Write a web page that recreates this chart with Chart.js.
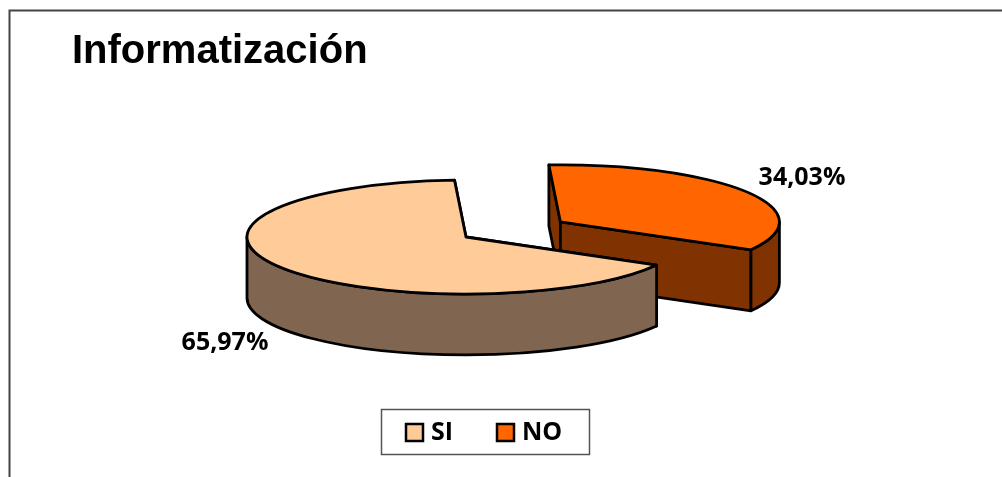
<!DOCTYPE html>
<html><head><meta charset="utf-8">
<style>html,body{margin:0;padding:0;background:#fff}canvas{display:block}</style>
<script src="https://cdn.jsdelivr.net/npm/chart.js@4"></script>
</head><body>
<canvas id="c" width="1002" height="477"></canvas>
<script>
const categories = ['SI', 'NO'];
const values = [65.97, 34.03];
const topColors = ['#FFCC99', '#FF6600'];
const wallColors = ['#806650', '#803300'];
const explodeBy = [0, 111];

const TILT = 0.26, DEPTH = 61, CENTER_Y = 237, RADIUS = 219, EDGE = 2.8;
const LABEL_FONT = 'bold 25px "Open Sans", sans-serif';
const LEGEND_FONT = 'bold 25px "Open Sans", sans-serif';
const fmt = v => v.toFixed(2).replace('.', ',') + '%';

function pie3d() {
  let baseY = 0;
  const mapY = y => CENTER_Y + (y - baseY) * TILT;
  return {
    id: 'pie3d',
    afterDatasetsUpdate(chart) {
      const arcs = chart.getDatasetMeta(0).data;
      baseY = arcs[0].y;
      arcs.forEach((arc, i) => {
        const mid = (arc.startAngle + arc.endAngle) / 2;
        arc.x += Math.cos(mid) * explodeBy[i];
        arc.y += Math.sin(mid) * explodeBy[i];
      });
    },
    beforeDatasetsDraw(chart) {
      const ctx = chart.ctx;
      const arcs = chart.getDatasetMeta(0).data;
      // walls: the exploded slice sits behind, so it goes first
      [1, 0].forEach(i => {
        const a = arcs[i], cy = mapY(a.y), r = a.outerRadius, ry = r * TILT;
        ctx.save();
        ctx.fillStyle = wallColors[i];
        ctx.strokeStyle = '#000'; ctx.lineWidth = EDGE; ctx.lineJoin = 'round';
        [a.startAngle, a.endAngle].forEach(ang => {
          const ex = a.x + Math.cos(ang) * r, ey = cy + Math.sin(ang) * ry;
          ctx.beginPath();
          ctx.moveTo(a.x, cy); ctx.lineTo(ex, ey);
          ctx.lineTo(ex, ey + DEPTH); ctx.lineTo(a.x, cy + DEPTH);
          ctx.closePath(); ctx.fill(); ctx.stroke();
        });
        [[0, Math.PI], [2 * Math.PI, 3 * Math.PI]].forEach(([lo, hi]) => {
          const s = Math.max(a.startAngle, lo), e = Math.min(a.endAngle, hi);
          if (e <= s) return;
          ctx.beginPath();
          ctx.ellipse(a.x, cy, r, ry, 0, s, e);
          ctx.lineTo(a.x + Math.cos(e) * r, cy + Math.sin(e) * ry + DEPTH);
          ctx.ellipse(a.x, cy + DEPTH, r, ry, 0, e, s, true);
          ctx.closePath(); ctx.fill(); ctx.stroke();
        });
        ctx.restore();
      });
      ctx.save();
      ctx.translate(0, CENTER_Y);
      ctx.scale(1, TILT);
      ctx.translate(0, -baseY);
    },
    afterDatasetsDraw(chart) {
      const ctx = chart.ctx;
      ctx.restore();
      const arcs = chart.getDatasetMeta(0).data;
      arcs.forEach(a => {
        const cy = mapY(a.y), r = a.outerRadius, ry = r * TILT;
        ctx.save();
        ctx.strokeStyle = '#000'; ctx.lineWidth = EDGE; ctx.lineJoin = 'round';
        ctx.beginPath();
        ctx.moveTo(a.x, cy);
        ctx.ellipse(a.x, cy, r, ry, 0, a.startAngle, a.endAngle);
        ctx.closePath(); ctx.stroke();
        ctx.restore();
      });
    },
    afterDraw(chart) {
      const ctx = chart.ctx;
      ctx.save();
      // chart frame
      ctx.strokeStyle = '#444'; ctx.lineWidth = 2;
      ctx.beginPath(); ctx.moveTo(9.5, 477); ctx.lineTo(9.5, 10.5); ctx.lineTo(1002, 10.5); ctx.stroke();
      // percentage labels
      ctx.fillStyle = '#000'; ctx.font = LABEL_FONT;
      ctx.textAlign = 'center'; ctx.textBaseline = 'middle';
      ctx.fillText(fmt(values[0]), 225, 343);
      ctx.fillText(fmt(values[1]), 802, 178);
      // legend
      ctx.fillStyle = '#fff'; ctx.strokeStyle = '#555'; ctx.lineWidth = 1.5;
      ctx.fillRect(381.5, 409.5, 208, 45); ctx.strokeRect(381.5, 409.5, 208, 45);
      const swatchX = [406, 497], textX = [431, 522];
      categories.forEach((name, i) => {
        ctx.fillStyle = topColors[i]; ctx.strokeStyle = '#000'; ctx.lineWidth = 2.5;
        ctx.fillRect(swatchX[i], 424, 17, 17); ctx.strokeRect(swatchX[i], 424, 17, 17);
        ctx.fillStyle = '#000'; ctx.font = LEGEND_FONT;
        ctx.textAlign = 'left'; ctx.textBaseline = 'middle';
        ctx.fillText(name, textX[i], 433);
      });
      ctx.restore();
    }
  };
}

new Chart(document.getElementById('c'), {
  type: 'pie',
  data: {
    labels: categories,
    datasets: [{
      data: values,
      backgroundColor: topColors,
      borderWidth: 0,
      clip: false
    }]
  },
  options: {
    responsive: false,
    animation: false,
    events: [],
    rotation: 119.5,
    radius: RADIUS,
    layout: { padding: { left: 72, right: 142, top: 0, bottom: 0 } },
    plugins: {
      legend: { display: false },
      tooltip: { enabled: false },
      title: {
        display: true,
        text: 'Informatización',
        align: 'start',
        color: '#000',
        font: { family: '"Liberation Sans", Arial, sans-serif', size: 40, weight: 'bold' },
        padding: { top: 28, bottom: 10 }
      }
    }
  },
  plugins: [pie3d()]
});
</script>
</body></html>
